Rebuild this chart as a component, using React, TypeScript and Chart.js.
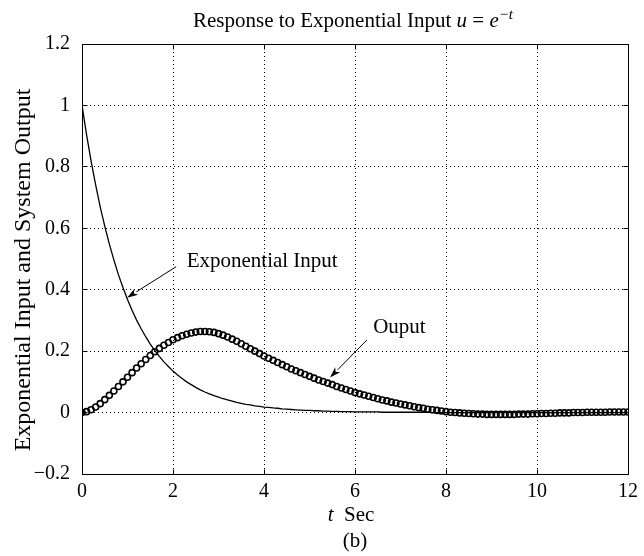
import React, { useEffect, useRef } from 'react';
import { Chart, registerables } from 'chart.js';

Chart.register(...registerables);

// time axis: 0 .. 12 s, sampled every 0.1 s
const timeSec: number[] = Array.from({ length: 121 }, (_, i) => i / 10);

// exponential input u = e^-t
const inputValues: number[] = [
  1.000, 0.905, 0.819, 0.741, 0.670, 0.607, 0.549, 0.497, 0.449, 0.407,
  0.368, 0.333, 0.301, 0.273, 0.247, 0.223, 0.202, 0.183, 0.165, 0.150,
  0.135, 0.122, 0.111, 0.100, 0.091, 0.082, 0.074, 0.067, 0.061, 0.055,
  0.050, 0.045, 0.041, 0.037, 0.033, 0.030, 0.027, 0.025, 0.022, 0.020,
  0.018, 0.017, 0.015, 0.014, 0.012, 0.011, 0.010, 0.009, 0.008, 0.007,
  0.007, 0.006, 0.006, 0.005, 0.005, 0.004, 0.004, 0.003, 0.003, 0.003,
  0.002, 0.002, 0.002, 0.002, 0.002, 0.002, 0.001, 0.001, 0.001, 0.001,
  0.001, 0.001, 0.001, 0.001, 0.001, 0.001, 0.001, 0.000, 0.000, 0.000,
  0.000, 0.000, 0.000, 0.000, 0.000, 0.000, 0.000, 0.000, 0.000, 0.000,
  0.000, 0.000, 0.000, 0.000, 0.000, 0.000, 0.000, 0.000, 0.000, 0.000,
  0.000, 0.000, 0.000, 0.000, 0.000, 0.000, 0.000, 0.000, 0.000, 0.000,
  0.000, 0.000, 0.000, 0.000, 0.000, 0.000, 0.000, 0.000, 0.000, 0.000,
  0.000,
];

// system output (circles)
const outputValues: number[] = [
  0.000, 0.003, 0.009, 0.018, 0.029, 0.042, 0.056, 0.070, 0.085, 0.100,
  0.115, 0.130, 0.145, 0.159, 0.173, 0.186, 0.198, 0.209, 0.219, 0.228,
  0.237, 0.244, 0.250, 0.255, 0.259, 0.262, 0.264, 0.264, 0.263, 0.261,
  0.257, 0.252, 0.246, 0.239, 0.232, 0.224, 0.216, 0.208, 0.200, 0.192,
  0.184, 0.177, 0.170, 0.163, 0.156, 0.149, 0.142, 0.136, 0.130, 0.124,
  0.118, 0.112, 0.106, 0.101, 0.096, 0.091, 0.085, 0.080, 0.075, 0.070,
  0.065, 0.061, 0.057, 0.053, 0.049, 0.045, 0.041, 0.038, 0.034, 0.031,
  0.028, 0.025, 0.022, 0.019, 0.016, 0.014, 0.011, 0.009, 0.007, 0.005,
  0.003, 0.001, 0.000, -0.001, -0.002, -0.003, -0.004, -0.005, -0.005, -0.006,
  -0.006, -0.006, -0.006, -0.006, -0.006, -0.006, -0.005, -0.005, -0.005, -0.004,
  -0.004, -0.003, -0.003, -0.002, -0.002, -0.001, -0.001, -0.001, 0.000, 0.000,
  0.000, 0.001, 0.001, 0.001, 0.001, 0.001, 0.002, 0.002, 0.002, 0.002,
  0.002,
];

const xTicks: number[] = [0, 2, 4, 6, 8, 10, 12];
const yTicks: number[] = [-0.2, 0, 0.2, 0.4, 0.6, 0.8, 1, 1.2];

// annotation anchors in data units
const inputNote = { label: 'Exponential Input', text: [2.3, 0.473], from: [2.07, 0.475], to: [0.99, 0.374] };
const outputNote = { label: 'Ouput', text: [6.4, 0.258], from: [6.26, 0.236], to: [5.45, 0.114] };

const SERIF = '"Liberation Serif", "Times New Roman", serif';
const F = `21px ${SERIF}`;
const FI = `italic 21px ${SERIF}`;

function fmtTick(v: number): string {
  const r = Math.round(v * 10) / 10;
  if (r === 0) return '0';
  const s = String(Math.abs(r));
  return r < 0 ? '\u2212' + s : s;
}

function drawArrow(ctx: CanvasRenderingContext2D, x1: number, y1: number, x2: number, y2: number) {
  const ang = Math.atan2(y2 - y1, x2 - x1);
  const len = 11;
  const half = 3.5;
  const bx = x2 - len * Math.cos(ang);
  const by = y2 - len * Math.sin(ang);
  ctx.beginPath();
  ctx.moveTo(x1, y1);
  ctx.lineTo(bx, by);
  ctx.stroke();
  ctx.beginPath();
  ctx.moveTo(x2, y2);
  ctx.lineTo(bx + half * Math.sin(ang), by - half * Math.cos(ang));
  ctx.lineTo(bx + 3 * Math.cos(ang), by + 3 * Math.sin(ang));
  ctx.lineTo(bx - half * Math.sin(ang), by + half * Math.cos(ang));
  ctx.closePath();
  ctx.fill();
}

const overlay = {
  id: 'overlay',
  afterDraw(chart: any) {
    const { ctx, chartArea: a, scales } = chart;
    const xs = scales.x;
    const ys = scales.y;
    ctx.save();
    ctx.strokeStyle = '#000';
    ctx.fillStyle = '#000';
    ctx.setLineDash([]);
    ctx.lineWidth = 1;
    // box
    const L = Math.round(a.left) + 0.5;
    const T = Math.round(a.top) + 0.5;
    const R = Math.round(a.right) + 0.5;
    const B = Math.round(a.bottom) + 0.5;
    ctx.strokeRect(L, T, R - L, B - T);
    // inward tick marks
    const tl = 5;
    ctx.beginPath();
    xTicks.forEach((v) => {
      const px = Math.round(xs.getPixelForValue(v) - 0.5) + 0.5;
      ctx.moveTo(px, B); ctx.lineTo(px, B - tl);
      ctx.moveTo(px, T); ctx.lineTo(px, T + tl);
    });
    yTicks.forEach((v) => {
      const py = Math.round(ys.getPixelForValue(v) - 0.5) + 0.5;
      ctx.moveTo(L, py); ctx.lineTo(L + tl, py);
      ctx.moveTo(R, py); ctx.lineTo(R - tl, py);
    });
    ctx.stroke();

    ctx.textAlign = 'left';
    ctx.textBaseline = 'alphabetic';
    const cx = (a.left + a.right) / 2;

    // title
    const segs: [string, string, number][] = [
      ['Response to Exponential Input ', F, 0],
      ['u', FI, 0],
      [' = ', F, 0],
      ['e', FI, 0],
      ['\u2212t', `italic 15px ${SERIF}`, -8],
    ];
    let total = 0;
    segs.forEach(([t, f]) => { ctx.font = f; total += ctx.measureText(t).width; });
    let x = cx - total / 2 - 2;
    segs.forEach(([t, f, dy]) => {
      ctx.font = f;
      ctx.fillText(t, x, 27 + dy);
      x += ctx.measureText(t).width;
    });

    // x label
    ctx.font = FI;
    const wt = ctx.measureText('t').width;
    ctx.font = F;
    const ws = ctx.measureText('  Sec').width;
    const lx = cx - 4 - (wt + ws) / 2;
    ctx.font = FI;
    ctx.fillText('t', lx, 521);
    ctx.font = F;
    ctx.fillText('  Sec', lx + wt, 521);

    // (b)
    ctx.textAlign = 'center';
    ctx.fillText('(b)', cx, 547);

    // y label
    ctx.save();
    ctx.translate(30, (a.top + a.bottom) / 2 + 11);
    ctx.rotate(-Math.PI / 2);
    ctx.font = `24px ${SERIF}`;
    ctx.textAlign = 'center';
    ctx.fillText('Exponential Input and System Output', 0, 0);
    ctx.restore();

    // annotations
    ctx.textAlign = 'left';
    ctx.font = F;
    [inputNote, outputNote].forEach((n) => {
      ctx.fillText(n.label, xs.getPixelForValue(n.text[0]), ys.getPixelForValue(n.text[1]));
      drawArrow(
        ctx,
        xs.getPixelForValue(n.from[0]), ys.getPixelForValue(n.from[1]),
        xs.getPixelForValue(n.to[0]), ys.getPixelForValue(n.to[1])
      );
    });
    ctx.restore();
  },
};

export default function App() {
  const ref = useRef<HTMLCanvasElement | null>(null);
  useEffect(() => {
    document.body.style.margin = '0';
    const canvas = ref.current;
    if (!canvas) return;
    const chart = new Chart(canvas, {
      type: 'line',
      data: {
        datasets: [
          {
            label: 'Exponential Input',
            data: timeSec.map((t, i) => ({ x: t, y: inputValues[i] })),
            borderColor: '#000',
            borderWidth: 1.3,
            pointRadius: 0,
            tension: 0,
            fill: false,
          },
          {
            label: 'Output',
            data: timeSec.map((t, i) => ({ x: t, y: outputValues[i] })),
            showLine: false,
            pointStyle: 'circle',
            pointRadius: 3,
            pointBorderWidth: 1.6,
            pointBorderColor: '#000',
            pointBackgroundColor: 'rgba(255,255,255,0)',
            borderColor: '#000',
          },
        ],
      },
      options: {
        animation: false,
        responsive: true,
        maintainAspectRatio: false,
        layout: { padding: { top: 44, right: 16, left: 0, bottom: 0 } },
        plugins: {
          legend: { display: false },
          title: { display: false },
          tooltip: { enabled: false },
        },
        scales: {
          x: {
            type: 'linear',
            min: 0,
            max: 12,
            afterBuildTicks: (s: any) => { s.ticks = xTicks.map((v) => ({ value: v })); },
            afterFit: (s: any) => { s.height = 82; },
            ticks: {
              color: '#000',
              font: { family: SERIF, size: 20 },
              padding: 6,
              maxRotation: 0,
              autoSkip: false,
              callback: (v: any) => fmtTick(Number(v)),
            },
            grid: { color: '#000', lineWidth: 1, drawTicks: false },
            border: { display: false, dash: [1, 3] },
          },
          y: {
            type: 'linear',
            min: -0.2,
            max: 1.2,
            afterBuildTicks: (s: any) => { s.ticks = yTicks.map((v) => ({ value: v })); },
            afterFit: (s: any) => { s.width = 82; },
            ticks: {
              color: '#000',
              font: { family: SERIF, size: 20 },
              padding: 12,
              autoSkip: false,
              callback: (v: any) => fmtTick(Number(v)),
            },
            grid: { color: '#000', lineWidth: 1, drawTicks: false },
            border: { display: false, dash: [1, 3] },
          },
        },
      },
      plugins: [overlay],
    });
    return () => chart.destroy();
  }, []);
  return (
    <div style={{ position: 'fixed', left: 0, top: 0, width: 644, height: 556, background: '#fff' }}>
      <canvas ref={ref} />
    </div>
  );
}
